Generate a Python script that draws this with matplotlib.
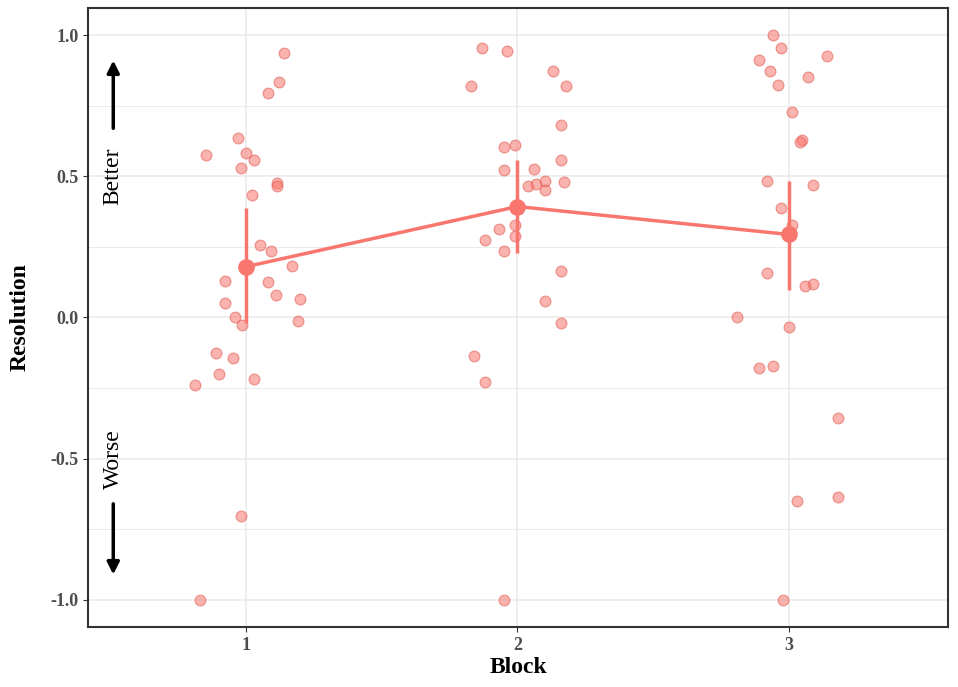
import numpy as np
import matplotlib.pyplot as plt
from matplotlib.ticker import MultipleLocator

plt.rcParams['font.family'] = ['Liberation Serif', 'DejaVu Serif']

# jittered raw points: block position, resolution
b1_x = [0.85, 0.97, 1.0, 1.03, 0.98, 1.02, 1.14, 1.12, 1.08, 1.115, 1.115, 1.05, 1.09, 1.17,
        1.08, 1.11, 1.2, 1.19, 0.92, 0.92, 0.96, 0.985, 0.89, 0.95, 0.9, 1.03, 0.81, 0.98, 0.83]
b1_y = [0.577, 0.637, 0.584, 0.556, 0.531, 0.432, 0.938, 0.835, 0.796, 0.478, 0.464, 0.255,
        0.234, 0.184, 0.124, 0.081, 0.064, -0.014, 0.131, 0.05, 0.0, -0.028, -0.124, -0.145,
        -0.2, -0.219, -0.24, -0.704, -1.0]
b2_x = [1.83, 1.87, 1.96, 2.13, 2.18, 1.99, 1.95, 2.16, 2.16, 1.95, 2.06, 2.17, 2.1, 2.04,
        2.07, 2.1, 1.93, 1.88, 1.99, 1.99, 1.95, 2.16, 2.1, 2.16, 1.84, 1.88, 1.95]
b2_y = [0.821, 0.956, 0.945, 0.874, 0.821, 0.612, 0.605, 0.68, 0.556, 0.524, 0.527, 0.481,
        0.485, 0.467, 0.474, 0.45, 0.315, 0.273, 0.29, 0.326, 0.237, 0.166, 0.06, -0.018,
        -0.138, -0.23, -1.0]
b3_x = [2.94, 2.97, 2.89, 2.93, 2.96, 3.14, 3.07, 3.01, 3.05, 3.04, 2.92, 3.09, 2.97, 3.01,
        2.92, 3.09, 3.06, 2.81, 3.0, 2.89, 2.94, 3.18, 3.03, 3.18, 2.98]
b3_y = [1.0, 0.956, 0.913, 0.874, 0.825, 0.927, 0.853, 0.729, 0.63, 0.62, 0.485, 0.47, 0.386,
        0.329, 0.159, 0.117, 0.11, 0.0, -0.032, -0.18, -0.173, -0.357, -0.651, -0.634, -1.0]

blocks = [1, 2, 3]
means = [0.18, 0.393, 0.294]
err_lo = [-0.02, 0.227, 0.096]
err_hi = [0.386, 0.556, 0.485]

col = '#F8766D'
fig = plt.figure(figsize=(9.58, 6.87), dpi=100)
ax = fig.add_axes([0.0919, 0.0873, 0.8977, 0.9011])

for xs, ys in [(b1_x, b1_y), (b2_x, b2_y), (b3_x, b3_y)]:
    ax.scatter(xs, ys, s=60, facecolor=col, alpha=0.55, edgecolor='#E05A50', linewidth=0.9, zorder=3)

ax.vlines(blocks, err_lo, err_hi, color=col, linewidth=2.5, zorder=4)
ax.plot(blocks, means, color=col, linewidth=2.5, marker='o', markersize=11, zorder=5)

ax.set_xlim(0.417, 3.587)
ax.set_ylim(-1.096, 1.096)
ax.set_xticks(blocks)
ax.yaxis.set_major_locator(MultipleLocator(0.5))
ax.yaxis.set_minor_locator(MultipleLocator(0.25))
ax.yaxis.set_major_formatter(lambda v, p: f'{v:.1f}')
ax.grid(which='major', color='#EBEBEB', linewidth=1.2)
ax.grid(which='minor', axis='y', color='#EBEBEB', linewidth=0.7)
ax.set_axisbelow(True)
ax.tick_params(which='minor', length=0)
ax.tick_params(which='major', labelsize=13, color='#333333', labelcolor='#4D4D4D')
for lab in ax.get_xticklabels() + ax.get_yticklabels():
    lab.set_fontweight('bold')
for s in ax.spines.values():
    s.set_color('#333333')
    s.set_linewidth(1.5)

ax.set_xlabel('Block', fontsize=17, fontweight='bold', labelpad=2)
ax.set_ylabel('Resolution', fontsize=17, fontweight='bold', labelpad=14)

ax.text(0.51, 0.5, 'Better', rotation=90, fontsize=17, ha='center', va='center')
ax.annotate('', xy=(0.51, 0.92), xytext=(0.51, 0.66),
            arrowprops=dict(arrowstyle='-|>', color='black', lw=2.5, mutation_scale=18))
ax.text(0.51, -0.5, 'Worse', rotation=90, fontsize=17, ha='center', va='center')
ax.annotate('', xy=(0.51, -0.92), xytext=(0.51, -0.65),
            arrowprops=dict(arrowstyle='-|>', color='black', lw=2.5, mutation_scale=18))

fig.savefig('out.png', dpi=100)
